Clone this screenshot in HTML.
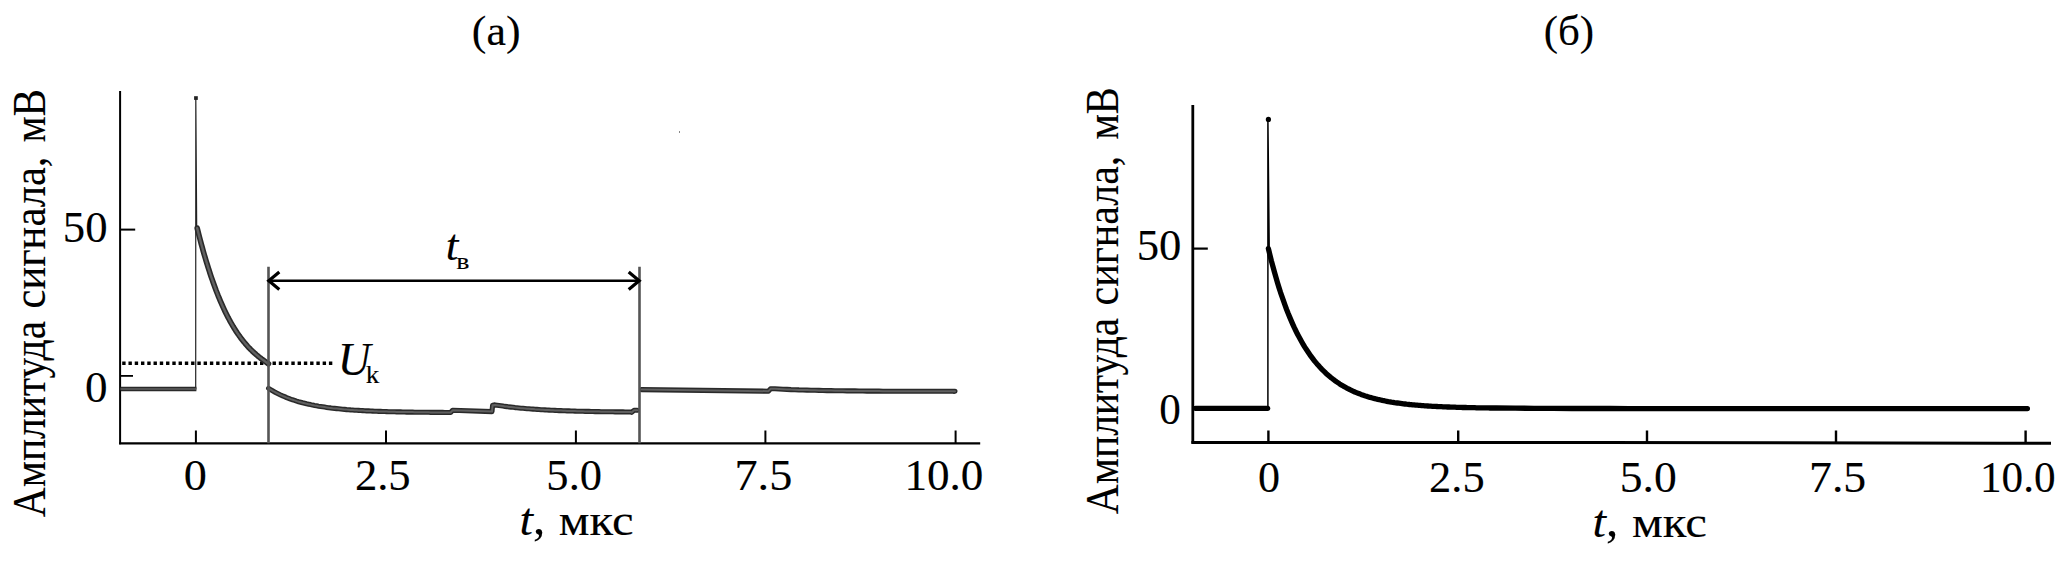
<!DOCTYPE html>
<html lang="ru">
<head>
<meta charset="utf-8">
<title>Амплитуда сигнала</title>
<style>
html,body{margin:0;padding:0;background:#fff;}
body{width:2067px;height:573px;overflow:hidden;}
svg{display:block;}
text{font-family:"Liberation Serif",serif;fill:#000;stroke:#000;stroke-width:0.12px;}
</style>
</head>
<body>
<svg width="2067" height="573" viewBox="0 0 2067 573">
<rect width="2067" height="573" fill="#fff"/>

<!-- ===== panel (a) ===== -->
<g stroke="#000" fill="none" stroke-width="2">
  <path d="M120.1,91 V444.3"/>
  <path d="M119.1,443.3 H980.2" stroke-width="2.2"/>
  <path d="M120.1,229.6 H135.2"/>
  <path d="M120.1,375.9 H133" stroke-width="1.8"/>
  <path d="M195.9,430.5 V443.3 M386,430.5 V443.3 M575.9,430.5 V443.3 M765.4,430.5 V443.3 M955.6,430.5 V443.3"/>
</g>
<path d="M122.2,363.2 H332.4" stroke="#000" stroke-width="3.6" stroke-dasharray="3.4 2.864" fill="none"/>
<path d="M195.7,389 L195.8,98 L196.7,229" stroke="#222" stroke-width="1.2" fill="none" stroke-linejoin="round"/>
<rect x="194.1" y="96.2" width="3.7" height="3.7" fill="#222"/>
<g stroke="#2a2a2a" stroke-width="5.6" fill="none" stroke-linejoin="round" stroke-linecap="round">
  <path d="M120.5,389.0 L196.4,389.0" stroke-width="4.4" stroke-linecap="butt"/>
  <path d="M197.2,228.2 L198.2,232.2 L199.2,236.1 L200.2,239.9 L201.2,243.7 L202.2,247.3 L203.2,250.9 L204.2,254.4 L205.2,257.8 L206.2,261.2 L207.2,264.4 L208.2,267.6 L209.2,270.7 L210.2,273.8 L211.2,276.8 L212.2,279.7 L213.2,282.5 L214.2,285.3 L215.2,288.0 L216.2,290.7 L217.2,293.2 L218.2,295.8 L219.2,298.2 L220.2,300.6 L221.2,302.9 L222.2,305.2 L223.2,307.4 L224.2,309.6 L225.2,311.7 L226.2,313.7 L227.2,315.7 L228.2,317.7 L229.2,319.5 L230.2,321.4 L231.2,323.2 L232.2,324.9 L233.2,326.6 L234.2,328.2 L235.2,329.8 L236.2,331.4 L237.2,332.9 L238.2,334.3 L239.2,335.8 L240.2,337.1 L241.2,338.5 L242.2,339.8 L243.2,341.1 L244.2,342.3 L245.2,343.5 L246.2,344.6 L247.2,345.8 L248.2,346.9 L249.2,347.9 L250.2,349.0 L251.2,350.0 L252.2,350.9 L253.2,351.9 L254.2,352.8 L255.2,353.7 L256.2,354.6 L257.2,355.4 L258.2,356.3 L259.2,357.1 L260.2,357.9 L261.2,358.6 L262.2,359.4 L263.2,360.1 L264.2,360.8 L265.2,361.5 L266.2,362.2 L267.2,362.9 L268.2,363.6 L268.5,363.8"/>
  <path d="M268.6,388.4 L270.6,389.6 L272.6,390.8 L274.6,391.9 L276.6,393.0 L278.6,394.0 L280.6,395.0 L282.6,395.9 L284.6,396.7 L286.6,397.6 L288.6,398.3 L290.6,399.1 L292.6,399.8 L294.6,400.4 L296.6,401.1 L298.6,401.7 L300.6,402.2 L302.6,402.8 L304.6,403.3 L306.6,403.8 L308.6,404.2 L310.6,404.6 L312.6,405.1 L314.6,405.5 L316.6,405.8 L318.6,406.2 L320.6,406.5 L322.6,406.8 L324.6,407.1 L326.6,407.4 L328.6,407.7 L330.6,407.9 L332.6,408.2 L334.6,408.4 L336.6,408.6 L338.6,408.8 L340.6,409.0 L342.6,409.2 L344.6,409.4 L346.6,409.6 L348.6,409.7 L350.6,409.9 L352.6,410.0 L354.6,410.2 L356.6,410.3 L358.6,410.4 L360.6,410.5 L362.6,410.6 L364.6,410.8 L366.6,410.9 L368.6,410.9 L370.6,411.0 L372.6,411.1 L374.6,411.2 L376.6,411.3 L378.6,411.4 L380.6,411.4 L382.6,411.5 L384.6,411.5 L386.6,411.6 L388.6,411.7 L390.6,411.7 L392.6,411.8 L394.6,411.8 L396.6,411.9 L398.6,411.9 L400.6,411.9 L402.6,412.0 L404.6,412.0 L406.6,412.1 L408.6,412.1 L410.6,412.1 L412.6,412.1 L414.6,412.2 L416.6,412.2 L418.6,412.2 L420.6,412.3 L422.6,412.3 L424.6,412.3 L426.6,412.3 L428.6,412.3 L430.6,412.4 L432.6,412.4 L434.6,412.4 L436.6,412.4 L438.6,412.4 L440.6,412.4 L442.6,412.4 L444.6,412.5 L446.6,412.5 L448.6,412.5 L450.6,412.5 L450.6,412.5 L452.6,410.3 L492.0,411.6 L492.6,405.2 L495.0,404.9 L495.0,404.9 L497.0,405.2 L499.0,405.5 L501.0,405.8 L503.0,406.1 L505.0,406.4 L507.0,406.6 L509.0,406.9 L511.0,407.1 L513.0,407.3 L515.0,407.6 L517.0,407.8 L519.0,408.0 L521.0,408.2 L523.0,408.3 L525.0,408.5 L527.0,408.7 L529.0,408.8 L531.0,409.0 L533.0,409.1 L535.0,409.3 L537.0,409.4 L539.0,409.5 L541.0,409.7 L543.0,409.8 L545.0,409.9 L547.0,410.0 L549.0,410.1 L551.0,410.2 L553.0,410.3 L555.0,410.4 L557.0,410.5 L559.0,410.6 L561.0,410.6 L563.0,410.7 L565.0,410.8 L567.0,410.9 L569.0,410.9 L571.0,411.0 L573.0,411.0 L575.0,411.1 L577.0,411.2 L579.0,411.2 L581.0,411.3 L583.0,411.3 L585.0,411.4 L587.0,411.4 L589.0,411.4 L591.0,411.5 L593.0,411.5 L595.0,411.6 L597.0,411.6 L599.0,411.6 L601.0,411.7 L603.0,411.7 L605.0,411.7 L607.0,411.8 L609.0,411.8 L611.0,411.8 L613.0,411.8 L615.0,411.9 L617.0,411.9 L619.0,411.9 L621.0,411.9 L623.0,411.9 L625.0,412.0 L627.0,412.0 L629.0,412.0 L631.0,412.0 L631.6,412.4 L634.0,410.3 L637.2,410.3" stroke-width="5.1"/>
  <path d="M641.6,389.6 L768.5,391.2 L770.5,388.8 L775.0,388.8 L775.0,388.8 L779.0,389.0 L783.0,389.2 L787.0,389.4 L791.0,389.6 L795.0,389.7 L799.0,389.9 L803.0,390.0 L807.0,390.1 L811.0,390.2 L815.0,390.3 L819.0,390.4 L823.0,390.5 L827.0,390.6 L831.0,390.6 L835.0,390.7 L839.0,390.8 L843.0,390.8 L847.0,390.9 L851.0,390.9 L855.0,390.9 L859.0,391.0 L863.0,391.0 L867.0,391.1 L871.0,391.1 L875.0,391.1 L879.0,391.1 L883.0,391.2 L887.0,391.2 L891.0,391.2 L895.0,391.2 L899.0,391.2 L903.0,391.2 L907.0,391.3 L911.0,391.3 L915.0,391.3 L919.0,391.3 L923.0,391.3 L927.0,391.3 L931.0,391.3 L935.0,391.3 L939.0,391.3 L943.0,391.3 L947.0,391.3 L951.0,391.3 L955.0,391.3 L954.0,391.4" stroke-width="5.1"/>
</g>
<g stroke="#606060" stroke-width="2.4" fill="none" stroke-linejoin="round" stroke-linecap="round">
  <path d="M120.5,389.0 L196.4,389.0" stroke-width="1.4" stroke-linecap="butt"/>
  <path d="M197.2,228.2 L198.2,232.2 L199.2,236.1 L200.2,239.9 L201.2,243.7 L202.2,247.3 L203.2,250.9 L204.2,254.4 L205.2,257.8 L206.2,261.2 L207.2,264.4 L208.2,267.6 L209.2,270.7 L210.2,273.8 L211.2,276.8 L212.2,279.7 L213.2,282.5 L214.2,285.3 L215.2,288.0 L216.2,290.7 L217.2,293.2 L218.2,295.8 L219.2,298.2 L220.2,300.6 L221.2,302.9 L222.2,305.2 L223.2,307.4 L224.2,309.6 L225.2,311.7 L226.2,313.7 L227.2,315.7 L228.2,317.7 L229.2,319.5 L230.2,321.4 L231.2,323.2 L232.2,324.9 L233.2,326.6 L234.2,328.2 L235.2,329.8 L236.2,331.4 L237.2,332.9 L238.2,334.3 L239.2,335.8 L240.2,337.1 L241.2,338.5 L242.2,339.8 L243.2,341.1 L244.2,342.3 L245.2,343.5 L246.2,344.6 L247.2,345.8 L248.2,346.9 L249.2,347.9 L250.2,349.0 L251.2,350.0 L252.2,350.9 L253.2,351.9 L254.2,352.8 L255.2,353.7 L256.2,354.6 L257.2,355.4 L258.2,356.3 L259.2,357.1 L260.2,357.9 L261.2,358.6 L262.2,359.4 L263.2,360.1 L264.2,360.8 L265.2,361.5 L266.2,362.2 L267.2,362.9 L268.2,363.6 L268.5,363.8"/>
  <path d="M268.6,388.4 L270.6,389.6 L272.6,390.8 L274.6,391.9 L276.6,393.0 L278.6,394.0 L280.6,395.0 L282.6,395.9 L284.6,396.7 L286.6,397.6 L288.6,398.3 L290.6,399.1 L292.6,399.8 L294.6,400.4 L296.6,401.1 L298.6,401.7 L300.6,402.2 L302.6,402.8 L304.6,403.3 L306.6,403.8 L308.6,404.2 L310.6,404.6 L312.6,405.1 L314.6,405.5 L316.6,405.8 L318.6,406.2 L320.6,406.5 L322.6,406.8 L324.6,407.1 L326.6,407.4 L328.6,407.7 L330.6,407.9 L332.6,408.2 L334.6,408.4 L336.6,408.6 L338.6,408.8 L340.6,409.0 L342.6,409.2 L344.6,409.4 L346.6,409.6 L348.6,409.7 L350.6,409.9 L352.6,410.0 L354.6,410.2 L356.6,410.3 L358.6,410.4 L360.6,410.5 L362.6,410.6 L364.6,410.8 L366.6,410.9 L368.6,410.9 L370.6,411.0 L372.6,411.1 L374.6,411.2 L376.6,411.3 L378.6,411.4 L380.6,411.4 L382.6,411.5 L384.6,411.5 L386.6,411.6 L388.6,411.7 L390.6,411.7 L392.6,411.8 L394.6,411.8 L396.6,411.9 L398.6,411.9 L400.6,411.9 L402.6,412.0 L404.6,412.0 L406.6,412.1 L408.6,412.1 L410.6,412.1 L412.6,412.1 L414.6,412.2 L416.6,412.2 L418.6,412.2 L420.6,412.3 L422.6,412.3 L424.6,412.3 L426.6,412.3 L428.6,412.3 L430.6,412.4 L432.6,412.4 L434.6,412.4 L436.6,412.4 L438.6,412.4 L440.6,412.4 L442.6,412.4 L444.6,412.5 L446.6,412.5 L448.6,412.5 L450.6,412.5 L450.6,412.5 L452.6,410.3 L492.0,411.6 L492.6,405.2 L495.0,404.9 L495.0,404.9 L497.0,405.2 L499.0,405.5 L501.0,405.8 L503.0,406.1 L505.0,406.4 L507.0,406.6 L509.0,406.9 L511.0,407.1 L513.0,407.3 L515.0,407.6 L517.0,407.8 L519.0,408.0 L521.0,408.2 L523.0,408.3 L525.0,408.5 L527.0,408.7 L529.0,408.8 L531.0,409.0 L533.0,409.1 L535.0,409.3 L537.0,409.4 L539.0,409.5 L541.0,409.7 L543.0,409.8 L545.0,409.9 L547.0,410.0 L549.0,410.1 L551.0,410.2 L553.0,410.3 L555.0,410.4 L557.0,410.5 L559.0,410.6 L561.0,410.6 L563.0,410.7 L565.0,410.8 L567.0,410.9 L569.0,410.9 L571.0,411.0 L573.0,411.0 L575.0,411.1 L577.0,411.2 L579.0,411.2 L581.0,411.3 L583.0,411.3 L585.0,411.4 L587.0,411.4 L589.0,411.4 L591.0,411.5 L593.0,411.5 L595.0,411.6 L597.0,411.6 L599.0,411.6 L601.0,411.7 L603.0,411.7 L605.0,411.7 L607.0,411.8 L609.0,411.8 L611.0,411.8 L613.0,411.8 L615.0,411.9 L617.0,411.9 L619.0,411.9 L621.0,411.9 L623.0,411.9 L625.0,412.0 L627.0,412.0 L629.0,412.0 L631.0,412.0 L631.6,412.4 L634.0,410.3 L637.2,410.3" stroke-width="2.0"/>
  <path d="M641.6,389.6 L768.5,391.2 L770.5,388.8 L775.0,388.8 L775.0,388.8 L779.0,389.0 L783.0,389.2 L787.0,389.4 L791.0,389.6 L795.0,389.7 L799.0,389.9 L803.0,390.0 L807.0,390.1 L811.0,390.2 L815.0,390.3 L819.0,390.4 L823.0,390.5 L827.0,390.6 L831.0,390.6 L835.0,390.7 L839.0,390.8 L843.0,390.8 L847.0,390.9 L851.0,390.9 L855.0,390.9 L859.0,391.0 L863.0,391.0 L867.0,391.1 L871.0,391.1 L875.0,391.1 L879.0,391.1 L883.0,391.2 L887.0,391.2 L891.0,391.2 L895.0,391.2 L899.0,391.2 L903.0,391.2 L907.0,391.3 L911.0,391.3 L915.0,391.3 L919.0,391.3 L923.0,391.3 L927.0,391.3 L931.0,391.3 L935.0,391.3 L939.0,391.3 L943.0,391.3 L947.0,391.3 L951.0,391.3 L955.0,391.3 L954.0,391.4" stroke-width="2.0"/>
</g>
<path d="M268.5,266.8 V443.3 M639.5,266.8 V443.3" stroke="#555" stroke-width="2.6" fill="none"/>
<g stroke="#000" stroke-width="2.6" fill="none" stroke-linecap="butt" stroke-linejoin="miter">
  <path d="M269,280.7 H639"/>
  <path d="M279.3,272.0 L268.8,280.7 L279.3,289.4" stroke-width="3.2"/>
  <path d="M628.7,272.0 L639.2,280.7 L628.7,289.4" stroke-width="3.2"/>
</g>
<text transform="translate(471.84,44.70) scale(1.0449,1)" font-size="42">(а)</text>
<text transform="translate(44.50,517.25) rotate(-90) scale(0.9010,1)" font-size="46">Амплитуда</text>
<text transform="translate(44.50,308.52) rotate(-90) scale(0.9259,1)" font-size="46">сигнала,</text>
<text transform="translate(44.50,142.60) rotate(-90) scale(0.8973,1)" font-size="46">мВ</text>
<text transform="translate(62.86,241.80) scale(1.0157,1)" font-size="44">50</text>
<text transform="translate(84.94,401.50) scale(1.0240,1)" font-size="44">0</text>
<text transform="translate(183.69,489.70) scale(1.0507,1)" font-size="44">0</text>
<text transform="translate(354.90,489.70) scale(1.0141,1)" font-size="44">2.5</text>
<text transform="translate(546.37,489.70) scale(1.0123,1)" font-size="44">5.0</text>
<text transform="translate(734.48,489.70) scale(1.0501,1)" font-size="44">7.5</text>
<text transform="translate(904.42,489.70) scale(1.0266,1)" font-size="44">10.0</text>
<text transform="translate(519.49,535.00) scale(1.0553,1)" font-size="46" font-style="italic">t</text>
<text x="533.12" y="534.20" font-size="49">,</text>
<text transform="translate(558.82,535.00) scale(1.0811,1)" font-size="45" stroke-width="0.1">мкс</text>
<text transform="translate(445.64,260.40) scale(1.0427,1)" font-size="43.5" font-style="italic">t</text>
<text transform="translate(456.35,269.40) scale(1.2103,1)" font-size="23" stroke-width="0">в</text>
<text transform="translate(337.80,374.60) scale(0.9873,1)" font-size="46" font-style="italic">U</text>
<text transform="translate(365.68,382.70) scale(1.0400,1)" font-size="26">k</text>

<rect x="679" y="131" width="1" height="2" fill="#888"/>
<!-- ===== panel (b) ===== -->
<g stroke="#000" fill="none" stroke-width="2.8">
  <path d="M1192.8,105 V443.6"/>
  <path d="M1191.4,442.5 H1600 L2000,443.2 H2051" stroke-width="3.1"/>
  <path d="M1192.8,248.6 H1207.8" stroke-width="2.2"/>
  <path d="M1268.4,430.4 V442.4 M1458.2,430.4 V442.4 M1647,430.4 V442.4 M1836,430.4 V442.4 M2025.6,430.4 V442.4" stroke-width="2.4"/>
</g>
<path d="M1267.9,408 L1267.9,119.4 L1269.2,248.6" stroke="#000" stroke-width="1.5" fill="none" stroke-linejoin="round"/>
<circle cx="1268.4" cy="119.4" r="2.6" fill="#000"/>
<g stroke="#000" stroke-width="5.3" fill="none" stroke-linejoin="round" stroke-linecap="round">
  <path d="M1195.5,408.3 L1267.6,408.3"/>
  <path d="M1268.4,248.6 L1269.9,254.9 L1271.4,260.9 L1273.0,266.7 L1274.5,272.2 L1276.0,277.5 L1277.5,282.7 L1279.0,287.6 L1280.5,292.3 L1282.1,296.9 L1283.6,301.2 L1285.1,305.4 L1286.6,309.5 L1288.1,313.3 L1289.7,317.1 L1291.2,320.6 L1292.7,324.1 L1294.2,327.4 L1295.7,330.5 L1297.2,333.6 L1298.8,336.5 L1300.3,339.3 L1301.8,342.0 L1303.3,344.6 L1304.8,347.1 L1306.4,349.5 L1307.9,351.8 L1309.4,354.0 L1310.9,356.2 L1312.4,358.2 L1313.9,360.2 L1315.5,362.1 L1317.0,363.9 L1318.5,365.6 L1320.0,367.3 L1321.5,368.9 L1323.0,370.4 L1324.6,371.9 L1326.1,373.4 L1327.6,374.7 L1329.1,376.0 L1330.6,377.3 L1332.2,378.5 L1333.7,379.7 L1335.2,380.8 L1336.7,381.9 L1338.2,382.9 L1339.7,383.9 L1341.3,384.9 L1342.8,385.8 L1344.3,386.7 L1345.8,387.5 L1347.3,388.3 L1348.9,389.1 L1350.4,389.9 L1351.9,390.6 L1353.4,391.3 L1354.9,392.0 L1356.4,392.6 L1358.0,393.2 L1359.5,393.8 L1361.0,394.4 L1362.5,394.9 L1364.0,395.5 L1365.6,396.0 L1367.1,396.4 L1368.6,396.9 L1370.1,397.4 L1371.6,397.8 L1373.1,398.2 L1374.7,398.6 L1376.2,399.0 L1377.7,399.4 L1379.2,399.7 L1380.7,400.0 L1382.3,400.4 L1383.8,400.7 L1385.3,401.0 L1386.8,401.3 L1388.3,401.6 L1389.8,401.8 L1391.4,402.1 L1392.9,402.3 L1394.4,402.6 L1395.9,402.8 L1397.4,403.0 L1398.9,403.2 L1400.5,403.4 L1402.0,403.6 L1403.5,403.8 L1405.0,404.0 L1406.5,404.2 L1408.1,404.3 L1409.6,404.5 L1411.1,404.6 L1412.6,404.8 L1414.1,404.9 L1415.6,405.1 L1417.2,405.2 L1418.7,405.3 L1420.2,405.4 L1421.7,405.6 L1423.2,405.7 L1424.8,405.8 L1426.3,405.9 L1427.8,406.0 L1429.3,406.1 L1430.8,406.2 L1432.3,406.3 L1433.9,406.3 L1435.4,406.4 L1436.9,406.5 L1438.4,406.6 L1439.9,406.6 L1441.5,406.7 L1443.0,406.8 L1444.5,406.8 L1446.0,406.9 L1447.5,407.0 L1449.0,407.0 L1450.6,407.1 L1452.1,407.1 L1453.6,407.2 L1455.1,407.2 L1456.6,407.3 L1458.2,407.3 L1459.7,407.4 L1461.2,407.4 L1462.7,407.5 L1464.2,407.5 L1465.7,407.5 L1467.3,407.6 L1468.8,407.6 L1470.3,407.6 L1471.8,407.7 L1473.3,407.7 L1474.8,407.7 L1476.4,407.8 L1477.9,407.8 L1479.4,407.8 L1480.9,407.8 L1482.4,407.9 L1484.0,407.9 L1485.5,407.9 L1487.0,407.9 L1488.5,407.9 L1490.0,408.0 L1491.5,408.0 L1493.1,408.0 L1494.6,408.0 L1496.1,408.0 L1515.1,408.2 L1534.1,408.3 L1553.0,408.4 L1572.0,408.5 L1591.0,408.5 L1610.0,408.5 L1628.9,408.6 L1647.9,408.6 L1666.9,408.6 L1685.9,408.6 L1704.8,408.6 L1723.8,408.6 L1742.8,408.6 L1761.8,408.6 L1780.7,408.6 L1799.7,408.6 L1818.7,408.6 L1837.7,408.6 L1856.6,408.6 L1875.6,408.6 L1894.6,408.6 L1913.6,408.6 L1932.5,408.6 L1951.5,408.6 L1970.5,408.6 L1989.5,408.6 L2008.4,408.6 L2027.4,408.6 L2023.2,408.6"/>
</g>
<text transform="translate(1543.68,44.70) scale(1.0236,1)" font-size="42">(б)</text>
<text transform="translate(1118.10,514.15) rotate(-90) scale(0.9006,1)" font-size="46">Амплитуда</text>
<text transform="translate(1118.10,305.40) rotate(-90) scale(0.9115,1)" font-size="46">сигнала,</text>
<text transform="translate(1118.10,139.78) rotate(-90) scale(0.8796,1)" font-size="46">мВ</text>
<text transform="translate(1136.76,260.40) scale(1.0157,1)" font-size="44">50</text>
<text transform="translate(1159.21,423.60) scale(0.9813,1)" font-size="44">0</text>
<text transform="translate(1257.97,491.80) scale(1.0027,1)" font-size="44">0</text>
<text transform="translate(1429.11,491.80) scale(1.0102,1)" font-size="44">2.5</text>
<text transform="translate(1619.71,491.60) scale(1.0359,1)" font-size="44">5.0</text>
<text transform="translate(1809.01,491.60) scale(1.0402,1)" font-size="44">7.5</text>
<text transform="translate(1980.00,491.60) scale(0.9818,1)" font-size="44">10.0</text>
<text transform="translate(1592.49,536.70) scale(1.0553,1)" font-size="46" font-style="italic">t</text>
<text x="1606.12" y="535.90" font-size="49">,</text>
<text transform="translate(1631.92,536.70) scale(1.0841,1)" font-size="45" stroke-width="0.1">мкс</text>
</svg>
</body>
</html>
